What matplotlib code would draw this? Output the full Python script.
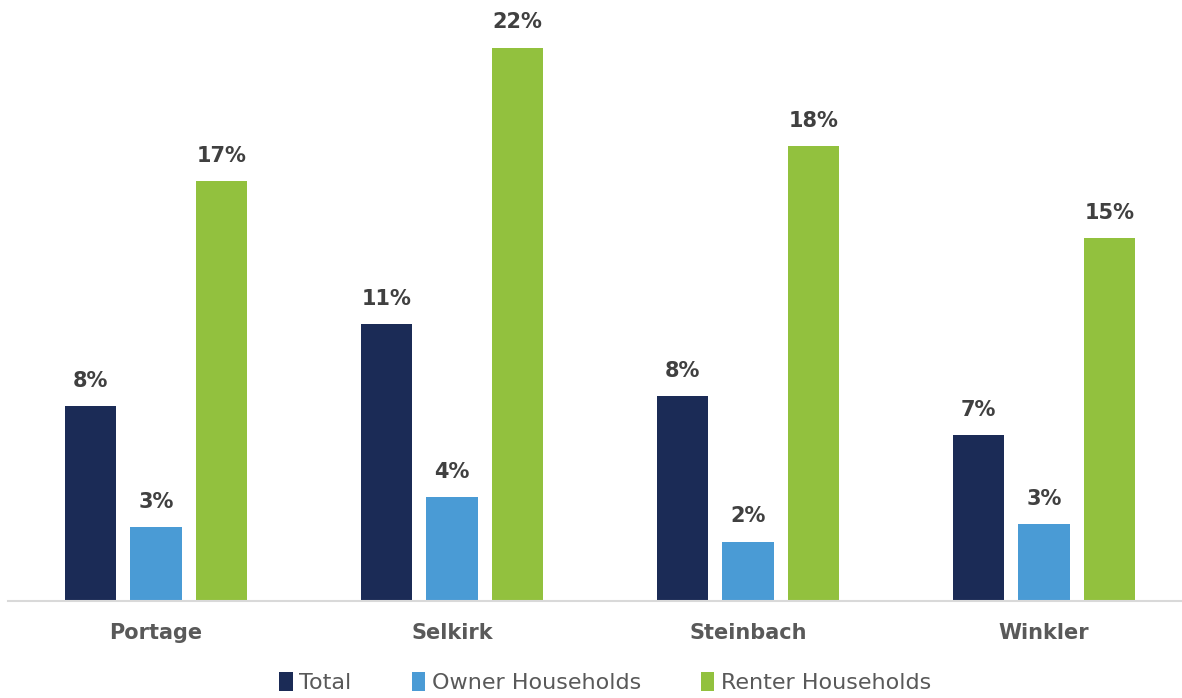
import matplotlib.pyplot as plt
import numpy as np

# Values (percent)
towns = ["Portage", "Selkirk", "Steinbach", "Winkler"]
total = [7.9, 11.2, 8.3, 6.7]
owner = [3.0, 4.2, 2.4, 3.1]
renter = [17.0, 22.4, 18.4, 14.7]

series_names = ["Total", "Owner Households", "Renter Households"]
colors = ["#1B2B56", "#4A9BD5", "#92C13E"]

fig = plt.figure(figsize=(11.82, 6.98), dpi=100)
ax = fig.add_axes([8 / 1182, 97 / 698, 1184 / 1182, 601 / 698])

x = np.arange(len(towns))
width = 0.173
step = 0.222

for i, (vals, name, col) in enumerate(zip([total, owner, renter], series_names, colors)):
    bars = ax.bar(x + (i - 1) * step, vals, width, color=col, label=name)
    for b, v in zip(bars, vals):
        ax.annotate(f"{v:.0f}%", (b.get_x() + b.get_width() / 2, v),
                    xytext=(0, 11), textcoords="offset points",
                    ha="center", va="bottom", fontsize=15,
                    fontweight="bold", color="#404040")

ax.set_xlim(-0.5, 3.5)
ax.set_ylim(0, 24.33)
ax.set_xticks(x)
ax.set_xticklabels(towns, fontsize=15, fontweight="bold", color="#595959")
ax.tick_params(axis="x", length=0, pad=16)
ax.set_yticks([])
for side in ["top", "right", "left"]:
    ax.spines[side].set_visible(False)
ax.spines["bottom"].set_color("#D9D9D9")
ax.spines["bottom"].set_linewidth(1.5)

# Legend along the bottom edge
fig.legend(loc="lower center", bbox_to_anchor=(0.512, -0.022), ncol=3,
           frameon=False, fontsize=16, handlelength=0.6, handleheight=0.9,
           handletextpad=0.3, columnspacing=2.7, labelcolor="#595959")

fig.savefig("out.png", dpi=100)
